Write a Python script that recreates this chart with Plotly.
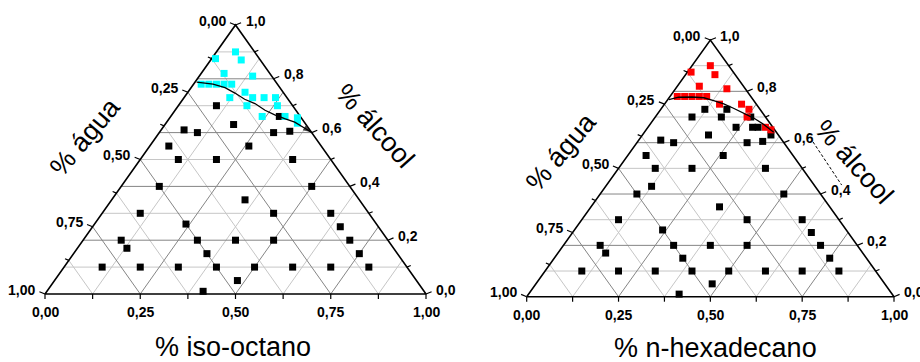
import plotly.graph_objects as go

W, H = 920, 362

# ---------------------------------------------------------------
# Compositions (mass fractions).  Each point is given by its
# alcohol fraction and its oil fraction; water = 1 - alcohol - oil.
# ---------------------------------------------------------------

# water / alcohol / iso-octane
oct_black_alc = [0.10, 0.10, 0.10, 0.10, 0.10, 0.10, 0.10, 0.10,
                 0.05, 0.01, 0.15, 0.15, 0.17,
                 0.20, 0.20, 0.20, 0.20, 0.20,
                 0.25, 0.26, 0.30, 0.30, 0.30, 0.35, 0.40, 0.40,
                 0.50, 0.50, 0.50, 0.55, 0.55,
                 0.61, 0.60, 0.60, 0.605, 0.63, 0.70, 0.66]
oct_black_oil = [0.10, 0.20, 0.30, 0.40, 0.50, 0.60, 0.70, 0.80,
                 0.48, 0.41, 0.35, 0.75, 0.13,
                 0.10, 0.30, 0.40, 0.50, 0.70,
                 0.65, 0.24, 0.10, 0.45, 0.60, 0.35, 0.10, 0.50,
                 0.10, 0.20, 0.40, 0.05, 0.26,
                 0.06, 0.10, 0.30, 0.34, 0.18, 0.10, 0.285]

oct_cyan_alc = [0.90, 0.87, 0.875, 0.82, 0.81,
                0.78, 0.78, 0.78, 0.78, 0.78,
                0.75, 0.73, 0.73, 0.73, 0.73,
                0.70, 0.70, 0.66, 0.66, 0.655, 0.635]
oct_cyan_oil = [0.05, 0.08, 0.01, 0.06, 0.14,
                0.02, 0.04, 0.06, 0.08, 0.10,
                0.15, 0.12, 0.18, 0.21, 0.24,
                0.18, 0.26, 0.24, 0.30, 0.335, 0.345]

oct_curve_alc = [0.788, 0.780, 0.767, 0.747, 0.724, 0.708, 0.683,
                 0.666, 0.652, 0.639, 0.616, 0.601]
oct_curve_oil = [0.004, 0.051, 0.089, 0.125, 0.162, 0.197, 0.236,
                 0.270, 0.303, 0.336, 0.374, 0.399]

# water / alcohol / n-hexadecane
hex_black_alc = [0.10, 0.10, 0.10, 0.10, 0.10, 0.10, 0.10, 0.10,
                 0.05, 0.01, 0.15, 0.15, 0.17,
                 0.20, 0.20, 0.20, 0.20, 0.20,
                 0.25, 0.26, 0.30, 0.30, 0.30, 0.35, 0.40, 0.40, 0.43,
                 0.50, 0.50, 0.50, 0.55, 0.55,
                 0.61, 0.60, 0.60, 0.605, 0.63, 0.70,
                 0.73, 0.73, 0.70, 0.70, 0.66, 0.66, 0.66, 0.63]
hex_black_oil = [0.10, 0.20, 0.30, 0.40, 0.50, 0.60, 0.70, 0.80,
                 0.48, 0.41, 0.35, 0.75, 0.13,
                 0.10, 0.30, 0.40, 0.50, 0.70,
                 0.65, 0.24, 0.10, 0.45, 0.60, 0.35, 0.10, 0.50, 0.125,
                 0.10, 0.20, 0.40, 0.05, 0.26,
                 0.06, 0.10, 0.30, 0.34, 0.18, 0.10,
                 0.12, 0.18, 0.18, 0.26, 0.24, 0.285, 0.30, 0.35]

hex_red_alc = [0.875, 0.90, 0.865, 0.82, 0.81,
               0.78, 0.78, 0.78, 0.78, 0.78,
               0.75, 0.75, 0.73, 0.70, 0.66, 0.65]
hex_red_oil = [0.01, 0.05, 0.08, 0.06, 0.14,
               0.02, 0.04, 0.06, 0.08, 0.10,
               0.15, 0.21, 0.24, 0.25, 0.32, 0.34]

hex_curve_alc = [0.768, 0.777, 0.778, 0.775, 0.764, 0.751, 0.734,
                 0.715, 0.696, 0.671, 0.641]
hex_curve_oil = [0.003, 0.025, 0.061, 0.095, 0.127, 0.161, 0.196,
                 0.233, 0.270, 0.310, 0.352]

hex_dash_alc = [0.603, 0.435]
hex_dash_oil = [0.478, 0.640]

# axis scales
oil_ticks = [0.0, 0.25, 0.50, 0.75, 1.0]
oil_tick_text = ["0,00", "0,25", "0,50", "0,75", "1,00"]
water_ticks = [0.0, 0.25, 0.50, 0.75, 1.0]
water_tick_text = ["0,00", "0,25", "0,50", "0,75", "1,00"]
alc_ticks = [0.0, 0.2, 0.4, 0.6, 0.8, 1.0]
alc_tick_text = ["0,0", "0,2", "0,4", "0,6", "0,8", "1,0"]
quarter_minor = [0.125, 0.375, 0.625, 0.875]
alc_minor = [0.1, 0.3, 0.5, 0.7, 0.9]

oil_titles = ["% iso-octano", "% n-hexadecano"]

# ---------------------------------------------------------------
# panel placement (pixel corners of each triangle)
# ---------------------------------------------------------------
panels = [
    dict(x0=45.0, x1=426.0, top=25.0, base=294.0, dom=(0.0, 0.5),
         title_bottom=(233, 347), title_left=(85, 137), title_right=(375, 126)),
    dict(x0=526.7, x1=894.0, top=40.0, base=296.7, dom=(0.5, 1.0),
         title_bottom=(715, 348), title_left=(561, 152), title_right=(854, 162)),
]

datasets = [
    dict(black=(oct_black_alc, oct_black_oil), color="#00FFFF",
         col=(oct_cyan_alc, oct_cyan_oil),
         curve=(oct_curve_alc, oct_curve_oil), arrow=True, dash=None),
    dict(black=(hex_black_alc, hex_black_oil), color="#FF0000",
         col=(hex_red_alc, hex_red_oil),
         curve=(hex_curve_alc, hex_curve_oil), arrow=False,
         dash=(hex_dash_alc, hex_dash_oil)),
]

FONT = "Liberation Sans, Arial, sans-serif"
GRID_DARK = "#858585"
GRID_LIGHT = "#c6c6c6"


def to_xy(alc, oil):
    """ternary -> cartesian: base is unit length, height is unit length"""
    return [o + a / 2.0 for a, o in zip(alc, oil)], list(alc)


def segs_to_xy(segs):
    xs, ys = [], []
    for (u1, v1), (u2, v2) in segs:
        xs += [u1, u2, None]
        ys += [v1, v2, None]
    return xs, ys


def alc_line(a):
    return ((a / 2.0, a), (1 - a / 2.0, a))


def oil_line(c):
    return ((c, 0.0), (c + (1 - c) / 2.0, 1 - c))


def water_line(w):
    return ((1 - w, 0.0), ((1 - w) / 2.0, 1 - w))


def left_pt(w):
    return ((1 - w) / 2.0, 1 - w)


def right_pt(a):
    return (1 - a / 2.0, a)


fig = go.Figure()
annotations = []

for i, (p, d) in enumerate(zip(panels, datasets)):
    sfx = "" if i == 0 else str(i + 1)
    xr, yr = "x" + sfx, "y" + sfx
    sx = p["x1"] - p["x0"]
    sy = p["base"] - p["top"]

    def add(xs, ys, **kw):
        fig.add_trace(go.Scatter(x=xs, y=ys, xaxis=xr, yaxis=yr,
                                 showlegend=False, hoverinfo="skip", **kw))

    # grid
    light, dark = [], []
    for a in alc_minor:
        light.append(alc_line(a))
    for a in alc_ticks[1:-1]:
        dark.append(alc_line(a))
    for c in quarter_minor:
        light.append(oil_line(c))
        light.append(water_line(c))
    for c in oil_ticks[1:-1]:
        dark.append(oil_line(c))
    for c in water_ticks[1:-1]:
        dark.append(water_line(c))
    gx, gy = segs_to_xy(light)
    add(gx, gy, mode="lines", line=dict(color=GRID_LIGHT, width=1))
    gx, gy = segs_to_xy(dark)
    add(gx, gy, mode="lines", line=dict(color=GRID_DARK, width=1))

    # ticks (lengths in pixels converted to data units)
    def off(pt, dx, dy):
        return (pt[0] + dx / sx, pt[1] - dy / sy)

    tick_segs = []
    for c in oil_ticks + quarter_minor:
        pt = (c, 0.0)
        tick_segs.append((pt, off(pt, 0, 5)))
    for w in water_ticks:
        pt = left_pt(w)
        tick_segs.append((pt, off(pt, -5.6, -2.3)))
    for w in quarter_minor:
        pt = left_pt(w)
        tick_segs.append((pt, off(pt, -3.8, -1.6)))
    for a in alc_ticks:
        pt = right_pt(a)
        tick_segs.append((pt, off(pt, 5.6, -2.3)))
    for a in alc_minor:
        pt = right_pt(a)
        tick_segs.append((pt, off(pt, 3.8, -1.6)))
    tx, ty = segs_to_xy(tick_segs)
    add(tx, ty, mode="lines", line=dict(color="black", width=1.2))

    # triangle frame
    add([0, 0.5, 1, 0], [0, 1, 0, 0], mode="lines",
        line=dict(color="black", width=1.6))

    # data points
    bx, by = to_xy(*d["black"])
    add(bx, by, mode="markers",
        marker=dict(symbol="square", size=7, color="black", line=dict(width=0)))
    cx, cy = to_xy(*d["col"])
    add(cx, cy, mode="markers",
        marker=dict(symbol="square", size=7, color=d["color"], line=dict(width=0)))

    # binodal curve
    ux, uy = to_xy(*d["curve"])
    if d["arrow"]:
        sizes = [0] * (len(ux) - 1) + [9]
        add(ux, uy, mode="lines+markers", line=dict(color="black", width=1.3),
            marker=dict(symbol="arrow", size=sizes, angleref="previous",
                        color="black", line=dict(width=0)))
    else:
        add(ux, uy, mode="lines", line=dict(color="black", width=1.3))

    if d["dash"] is not None:
        dx_, dy_ = to_xy(*d["dash"])
        add(dx_, dy_, mode="lines",
            line=dict(color="black", width=1, dash="3px,2px"))

    # tick labels
    tfont = dict(family=FONT, size=14, color="black", weight="bold")
    for c, t in zip(oil_ticks, oil_tick_text):
        annotations.append(dict(x=c, y=0, xref=xr, yref=yr, text=t,
                                showarrow=False, xanchor="center",
                                yanchor="middle", yshift=-18, font=tfont))
    for w, t in zip(water_ticks, water_tick_text):
        u, v = left_pt(w)
        annotations.append(dict(x=u, y=v, xref=xr, yref=yr, text=t,
                                showarrow=False, xanchor="right",
                                yanchor="middle", xshift=-8, yshift=4.5,
                                font=tfont))
    for a, t in zip(alc_ticks, alc_tick_text):
        u, v = right_pt(a)
        annotations.append(dict(x=u, y=v, xref=xr, yref=yr, text=t,
                                showarrow=False, xanchor="left",
                                yanchor="middle", xshift=8, yshift=4.5,
                                font=tfont))

    # axis titles
    big = dict(family=FONT, size=27, color="black")
    bxp, byp = p["title_bottom"]
    annotations.append(dict(x=bxp / W, y=1 - byp / H, xref="paper", yref="paper",
                            text=oil_titles[i], showarrow=False,
                            xanchor="center", yanchor="middle", font=big))
    lxp, lyp = p["title_left"]
    annotations.append(dict(x=lxp / W, y=1 - lyp / H, xref="paper", yref="paper",
                            text="% água", showarrow=False, textangle=-50,
                            xanchor="center", yanchor="middle", font=big))
    rxp, ryp = p["title_right"]
    annotations.append(dict(x=rxp / W, y=1 - ryp / H, xref="paper", yref="paper",
                            text="% álcool", showarrow=False, textangle=48,
                            xanchor="center", yanchor="middle", font=big))

    # axes mapped so that the triangle lands on its pixel corners
    P0, P1 = p["dom"][0] * W, p["dom"][1] * W
    xrange_ = [(P0 - p["x0"]) / sx, (P1 - p["x0"]) / sx]
    yrange_ = [(p["base"] - H) / sy, p["base"] / sy]
    ax_common = dict(visible=False, showgrid=False, zeroline=False,
                     fixedrange=True)
    fig.update_layout(**{
        "xaxis" + sfx: dict(domain=list(p["dom"]), range=xrange_,
                            anchor=yr, **ax_common),
        "yaxis" + sfx: dict(domain=[0, 1], range=yrange_, anchor=xr,
                            **ax_common),
    })

fig.update_layout(
    width=W, height=H, autosize=False,
    margin=dict(l=0, r=0, t=0, b=0),
    paper_bgcolor="white", plot_bgcolor="white",
    annotations=annotations,
    showlegend=False,
)

fig.write_html("out.html")
